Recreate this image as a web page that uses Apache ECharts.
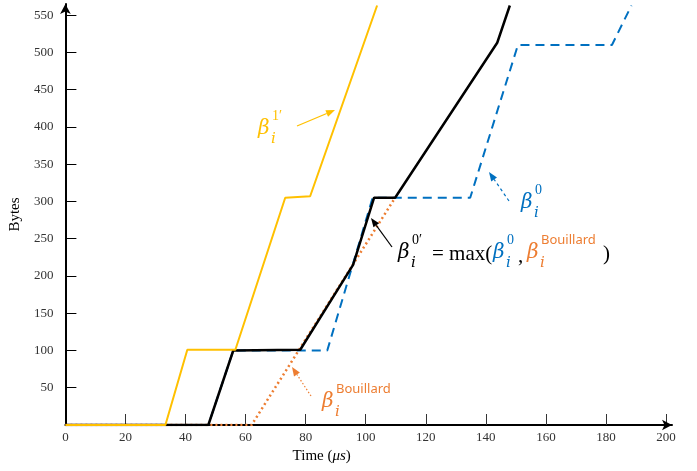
<!DOCTYPE html>
<html>
<head>
<meta charset="utf-8">
<script src="https://cdn.jsdelivr.net/npm/echarts@6/dist/echarts.min.js"></script>
<style>
  html, body { margin: 0; padding: 0; background: #fff; }
  #main { width: 697px; height: 471px; }
</style>
</head>
<body>
<div id="main"></div>
<script>
const myChart = echarts.init(document.querySelector('#main'));

// tick labels
const xTicks = [0, 20, 40, 60, 80, 100, 120, 140, 160, 180, 200];
const yTicks = [50, 100, 150, 200, 250, 300, 350, 400, 450, 500, 550];

// curves (time in us, bytes)
const beta1Time = [0, 33.3, 40.6, 56.6, 73.2, 81.5, 103.8];
const beta1Bytes = [0, 0, 101, 101, 305, 307, 563];
const beta0Time = [0, 47.6, 55.9, 87.2, 102.3, 134.8, 150.7, 182, 188.5];
const beta0Bytes = [0, 0, 100, 100, 305, 305, 510, 510, 563];
const bouillardTime = [0, 62, 109.8];
const bouillardBytes = [0, 0, 305];
const beta0pTime = [0, 47.6, 55.9, 78.2, 95.8, 102.8, 109.8, 143.8, 148];
const beta0pBytes = [0, 0, 100, 101, 215, 305, 305, 513, 563];

const YELLOW = '#FFC000';
const BLUE = '#0070C0';
const ORANGE = '#ED7D31';

const pairs = (xs, ys) => xs.map((x, i) => [x, ys[i]]);

function txt(x, y, text, font, color) {
  return {
    type: 'text', x: x, y: y, z: 100,
    style: {
      text: text, font: font, fill: color,
      align: 'left', verticalAlign: 'middle',
      textAlign: 'left', textVerticalAlign: 'middle'
    }
  };
}

// beta with sub i and a superscript
function beta(x, y, sup, color, supFont) {
  return [
    txt(x, y, 'β', 'italic 20px "DejaVu Serif"', color),
    txt(x + 14, y - 13, sup, supFont || '14px "Liberation Serif"', color),
    txt(x + 13, y + 10, 'i', 'italic 15px "DejaVu Serif"', color)
  ];
}

function arrow(x1, y1, x2, y2, color, dash) {
  const a = Math.atan2(y2 - y1, x2 - x1);
  const len = 9, w = 3.5;
  const bx = x2 - len * Math.cos(a), by = y2 - len * Math.sin(a);
  const px = -Math.sin(a) * w, py = Math.cos(a) * w;
  return [
    {
      type: 'line', z: 100,
      shape: { x1: x1, y1: y1, x2: bx, y2: by },
      style: { stroke: color, lineWidth: 1.2, lineDash: dash || null }
    },
    {
      type: 'polygon', z: 100,
      shape: { points: [[x2, y2], [bx + px, by + py], [bx - px, by - py]] },
      style: { fill: color }
    }
  ];
}

const bouFont = '13px "Noto Sans"';
const graphics = [].concat(
  beta(258, 129, '1′', YELLOW),
  arrow(297, 126, 335, 110, YELLOW),
  beta(521, 203, '0', BLUE),
  arrow(509, 201, 489, 172, BLUE, [3, 3]),
  beta(322, 402, 'Bouillard', ORANGE, bouFont),
  arrow(311, 396, 292, 367, ORANGE, [1.5, 2]),
  beta(398, 253, '0′', '#000'),
  [txt(432, 254, '= max(', '21px "Liberation Serif"', '#000')],
  beta(493, 253, '0', BLUE),
  [txt(518, 256, ',', '21px "Liberation Serif"', '#000')],
  beta(527, 253, 'Bouillard', ORANGE, bouFont),
  [txt(603, 254, ')', '21px "Liberation Serif"', '#000')],
  arrow(392, 247, 371, 218, '#000')
);

const axisFont = { fontFamily: 'Liberation Serif', fontSize: 13, color: '#333' };

const option = {
  animation: false,
  grid: { left: 65, right: 25, top: 4, bottom: 46 },
  xAxis: {
    type: 'value',
    min: 0,
    max: 202,
    splitLine: { show: false },
    axisLine: { lineStyle: { color: '#000', width: 2 }, symbol: ['none', 'arrow'], symbolSize: [8, 10] },
    axisTick: { inside: true, length: 11, lineStyle: { color: '#333', width: 1 }, customValues: xTicks.slice(1) },
    axisLabel: Object.assign({ margin: 6, customValues: xTicks }, axisFont),
    name: 'Time ({i|μs})',
    nameLocation: 'middle',
    nameGap: 23,
    nameTextStyle: {
      fontFamily: 'Liberation Serif', fontSize: 15, color: '#000', padding: [0, 94, 0, 0],
      rich: { i: { fontFamily: 'Liberation Serif', fontStyle: 'italic', fontSize: 15, color: '#000' } }
    }
  },
  yAxis: {
    type: 'value',
    min: 0,
    max: 565,
    splitLine: { show: false },
    axisLine: { lineStyle: { color: '#000', width: 2 }, symbol: ['none', 'arrow'], symbolSize: [8, 10] },
    axisTick: { inside: true, length: 11, lineStyle: { color: '#000', width: 1 }, customValues: yTicks },
    axisLabel: Object.assign({ margin: 12, customValues: yTicks }, axisFont),
    name: 'Bytes',
    nameLocation: 'middle',
    nameGap: 41,
    nameTextStyle: { fontFamily: 'Liberation Serif', fontSize: 15, color: '#000' }
  },
  series: [
    {
      name: 'beta0', type: 'line', data: pairs(beta0Time, beta0Bytes),
      showSymbol: false, z: 2,
      lineStyle: { color: BLUE, width: 2, type: [9, 6] }
    },
    {
      name: 'bouillard', type: 'line', data: pairs(bouillardTime, bouillardBytes),
      showSymbol: false, z: 3,
      lineStyle: { color: ORANGE, width: 2.5, type: [2, 3] }
    },
    {
      name: 'beta0p', type: 'line', data: pairs(beta0pTime, beta0pBytes),
      showSymbol: false, z: 4,
      lineStyle: { color: '#000', width: 2.5 }
    },
    {
      name: 'beta1', type: 'line', data: pairs(beta1Time, beta1Bytes),
      showSymbol: false, z: 5,
      lineStyle: { color: YELLOW, width: 2 }
    }
  ],
  graphic: graphics
};

option && myChart.setOption(option);
</script>
</body>
</html>
